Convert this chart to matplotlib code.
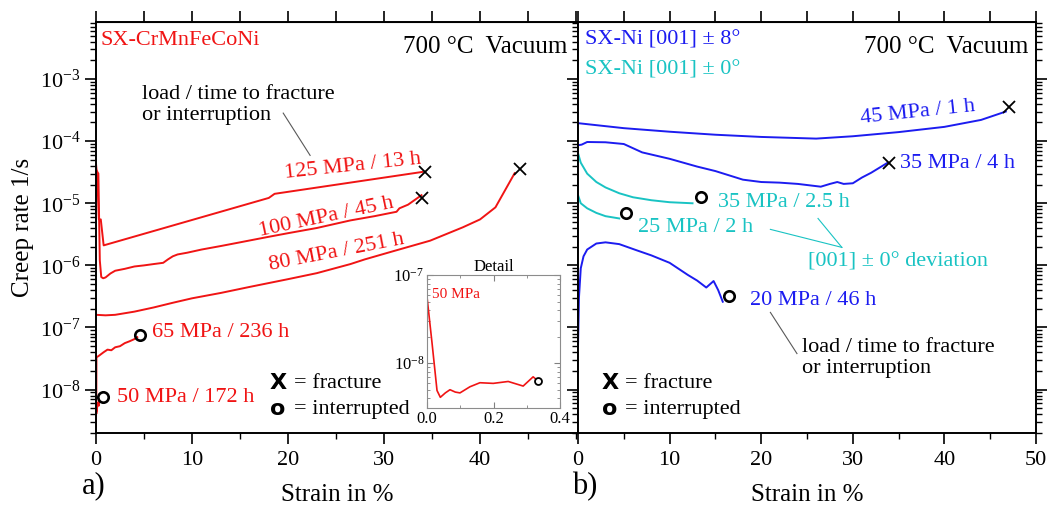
import numpy as np
import matplotlib.pyplot as plt
from matplotlib.ticker import LogLocator, MultipleLocator, NullFormatter, FixedLocator

plt.rcParams['font.family'] = 'Liberation Serif'
plt.rcParams['mathtext.fontset'] = 'custom'
plt.rcParams['mathtext.rm'] = 'Liberation Serif'
plt.rcParams['mathtext.it'] = 'Liberation Serif:italic'

red = '#f01414'
blue = '#1c1cf0'
cyan = '#19c3c3'

# ---- a) SX-CrMnFeCoNi ----
x125 = [0, 0.15, 0.3, 0.5, 0.8, 18.0, 18.6, 34.0]
y125 = [4.4e-5, 2.4e-5, 5.5e-6, 5.5e-6, 2.1e-6, 1.22e-5, 1.42e-5, 3.2e-5]

x100 = [0, 0.25, 0.4, 0.55, 0.75, 1.0, 1.5, 2.0, 3.0, 4.0, 5.0, 6.0, 7.0, 7.5, 8.0, 8.5,
        9.5, 11, 13, 15, 17.8, 20, 23, 26.5, 29, 30.5, 31.3, 31.6, 32.5, 33.9]
y100 = [3.5e-5, 3.0e-5, 1.2e-6, 6.5e-7, 6.2e-7, 6.4e-7, 7.4e-7, 8.2e-7, 8.8e-7, 9.6e-7,
        1.0e-6, 1.05e-6, 1.1e-6, 1.25e-6, 1.4e-6, 1.5e-6, 1.6e-6, 1.8e-6, 2.05e-6, 2.35e-6,
        2.85e-6, 3.3e-6, 4.0e-6, 5.3e-6, 6.2e-6, 6.9e-6, 7.3e-6, 8.3e-6, 9.5e-6, 1.35e-5]

x80 = [0, 1, 2, 4, 6, 8, 10, 13, 16, 20, 23, 26.5, 28, 31, 34.8, 38.2, 40, 41.6, 43.6]
y80 = [1.6e-7, 1.57e-7, 1.6e-7, 1.8e-7, 2.1e-7, 2.5e-7, 2.95e-7, 3.6e-7, 4.5e-7, 6.0e-7,
       7.5e-7, 1.05e-6, 1.25e-6, 1.7e-6, 2.5e-6, 4.1e-6, 5.5e-6, 8.6e-6, 3.05e-5]

x65 = [0, 0.05, 0.3, 0.8, 1.2, 1.6, 2.0, 2.5, 3.0, 3.5, 4.0, 4.3]
y65 = [2.5e-9, 3.3e-8, 3.5e-8, 4.0e-8, 4.4e-8, 4.3e-8, 4.8e-8, 5.0e-8, 5.6e-8, 6.0e-8, 6.5e-8, 7.0e-8]

x50 = [0, 0.015, 0.03, 0.04, 0.055, 0.069, 0.085, 0.099, 0.129, 0.159, 0.199, 0.244, 0.289, 0.319, 0.325]
y50 = [5.6e-8, 1.7e-8, 4.9e-9, 4.1e-9, 4.6e-9, 5.0e-9, 4.7e-9, 4.6e-9, 5.4e-9, 6.0e-9,
       5.9e-9, 6.2e-9, 5.5e-9, 7.0e-9, 6.7e-9]

frac_a_x = [34.3, 34.0, 44.2]
frac_a_y = [3.2e-5, 1.2e-5, 3.5e-5]
int_a_x = [4.6, 0.75]
int_a_y = [7.6e-8, 7.6e-9]

# ---- b) SX-Ni ----
x45 = [0, 5, 10, 15, 20, 26, 30, 35, 40, 44, 46.7]
y45 = [1.95e-4, 1.62e-4, 1.42e-4, 1.27e-4, 1.17e-4, 1.1e-4, 1.2e-4, 1.4e-4, 1.7e-4, 2.2e-4, 3.0e-4]

x35 = [0, 0.4, 1, 3, 5, 7, 10, 13, 15, 18, 20, 22, 24, 26.5, 27.5, 28.3, 29, 30, 31, 32, 33.8]
y35 = [8.6e-5, 8.8e-5, 9.7e-5, 9.6e-5, 9.0e-5, 6.6e-5, 5.2e-5, 3.9e-5, 3.3e-5, 2.4e-5, 2.2e-5,
       2.15e-5, 2.05e-5, 1.85e-5, 2.05e-5, 2.2e-5, 2.05e-5, 2.1e-5, 2.6e-5, 3.1e-5, 4.5e-5]

x20 = [0, 0.1, 0.3, 0.6, 1, 2, 3, 4.5, 6.4, 8, 10, 12, 13, 14, 14.8, 15.3, 15.8]
y20 = [5e-8, 3e-7, 9e-7, 1.4e-6, 1.8e-6, 2.25e-6, 2.35e-6, 2.2e-6, 1.75e-6, 1.45e-6, 1.1e-6,
       7e-7, 5.7e-7, 4.4e-7, 5.6e-7, 4.0e-7, 2.6e-7]

x35c = [0, 0.3, 1, 2, 3, 4.5, 6, 8, 10, 12.5]
y35c = [6.4e-5, 4.5e-5, 3e-5, 2.2e-5, 1.8e-5, 1.45e-5, 1.25e-5, 1.12e-5, 1.04e-5, 1.0e-5]

x25c = [0, 0.3, 1, 2, 3, 4.5]
y25c = [1.35e-5, 1.0e-5, 8.3e-6, 7e-6, 6.2e-6, 5.7e-6]

frac_b_x = [47.1, 34.0]
frac_b_y = [3.5e-4, 4.5e-5]
int_b_x = [13.4, 5.2, 16.5]
int_b_y = [1.25e-5, 7.1e-6, 3.2e-7]


def style(ax, xmax, xticks):
    ax.set_yscale('log')
    ax.set_ylim(2e-9, 8.3e-3)
    ax.set_xlim(0, xmax)
    ax.xaxis.set_major_locator(FixedLocator(xticks))
    ax.xaxis.set_minor_locator(MultipleLocator(5))
    ax.yaxis.set_major_locator(LogLocator(base=10, numticks=20))
    ax.yaxis.set_minor_locator(LogLocator(base=10, subs=np.arange(2, 10), numticks=20))
    ax.yaxis.set_minor_formatter(NullFormatter())
    ax.tick_params(which='major', length=8, width=1.2, labelsize=16, direction='out', pad=5)
    ax.tick_params(which='minor', length=4, width=1.0, direction='out')
    for s in ax.spines.values():
        s.set_linewidth(1.4)
    top = ax.secondary_xaxis('top')
    top.set_xticks(np.arange(0, 51, 5))
    top.set_xticklabels([])
    top.tick_params(length=8, width=1.2, direction='out')
    ax.set_xlabel('Strain in %', fontsize=18, labelpad=10)


fig = plt.figure(figsize=(10.5, 5.09), dpi=100)
ax1 = fig.add_axes([0.0914, 0.1493, 0.4591, 0.8075])
ax2 = fig.add_axes([0.5505, 0.1493, 0.4362, 0.8075], sharey=ax1)
style(ax1, 50.2, [0, 10, 20, 30, 40])
style(ax2, 50, [0, 10, 20, 30, 40, 50])
ax2.tick_params(labelleft=False, right=True, which='both')
ax1.tick_params(axis='y', pad=3)
ax1.set_ylabel('Creep rate 1/s', fontsize=18, labelpad=4)

# left panel curves
for xs, ys in [(x125, y125), (x100, y100), (x80, y80), (x65, y65), (x50, y50)]:
    ax1.plot(xs, ys, color=red, lw=1.4)
ax1.plot(frac_a_x, frac_a_y, 'x', color='k', ms=9, mew=1.3)
ax1.plot(int_a_x, int_a_y, 'o', mfc='none', mec='k', ms=7.5, mew=1.9)

lab = dict(color=red, fontsize=16, rotation_mode='anchor')
ax1.text(26.7, 3.95e-5, '125 MPa / 13 h', ha='center', va='center', rotation=6, **lab)
ax1.text(24.0, 5.9e-6, '100 MPa / 45 h', ha='center', va='center', rotation=12, **lab)
ax1.text(25.1, 1.62e-6, '80 MPa / 251 h', ha='center', va='center', rotation=11, **lab)
ax1.text(5.8, 8.3e-8, '65 MPa / 236 h', ha='left', va='center', **lab)
ax1.text(2.2, 7.4e-9, '50 MPa / 172 h', ha='left', va='center', **lab)

ax1.text(0.01, 0.956, 'SX-CrMnFeCoNi', color=red, fontsize=16, transform=ax1.transAxes, va='center')
ax1.text(0.977, 0.939, '700 °C  Vacuum', fontsize=18, transform=ax1.transAxes, ha='right', va='center')
ax1.text(0.095, 0.798, 'load / time to fracture\nor interruption', fontsize=16,
         transform=ax1.transAxes, va='center', linespacing=1.15)
ax1.plot([19.5, 22.3], [2.83e-4, 5.9e-5], color='0.35', lw=0.8)

# right panel curves
ax2.plot(x45, y45, color=blue, lw=1.4)
ax2.plot(x35, y35, color=blue, lw=1.4)
ax2.plot(x20, y20, color=blue, lw=1.4)
ax2.plot(x35c, y35c, color=cyan, lw=1.4)
ax2.plot(x25c, y25c, color=cyan, lw=1.4)
ax2.plot(frac_b_x, frac_b_y, 'x', color='k', ms=9, mew=1.3)
ax2.plot(int_b_x, int_b_y, 'o', mfc='none', mec='k', ms=7.5, mew=1.9)

ax2.text(37.1, 2.94e-4, '45 MPa / 1 h', color=blue, fontsize=16, ha='center', va='center',
         rotation=6, rotation_mode='anchor')
ax2.text(35.2, 4.4e-5, '35 MPa / 4 h', color=blue, fontsize=16, va='center')
ax2.text(15.3, 1.04e-5, '35 MPa / 2.5 h', color=cyan, fontsize=16, va='center')
ax2.text(6.55, 4.1e-6, '25 MPa / 2 h', color=cyan, fontsize=16, va='center')
ax2.text(25.1, 1.12e-6, '[001] ± 0° deviation', color=cyan, fontsize=16, va='center')
ax2.plot([26.2, 28.8], [5.7e-6, 1.95e-6], color=cyan, lw=0.8)
ax2.plot([21.0, 28.8], [3.8e-6, 1.95e-6], color=cyan, lw=0.8)
ax2.text(18.8, 2.73e-7, '20 MPa / 46 h', color=blue, fontsize=16, va='center')
ax2.plot([21.0, 23.9], [1.75e-7, 3.8e-8], color='0.35', lw=0.8)
ax2.text(0.489, 0.182, 'load / time to fracture\nor interruption', fontsize=16,
         transform=ax2.transAxes, va='center', linespacing=1.15)

ax2.text(0.015, 0.956, 'SX-Ni [001] ± 8°', color=blue, fontsize=16, transform=ax2.transAxes, va='center')
ax2.text(0.015, 0.883, 'SX-Ni [001] ± 0°', color=cyan, fontsize=16, transform=ax2.transAxes, va='center')
ax2.text(0.983, 0.939, '700 °C  Vacuum', fontsize=18, transform=ax2.transAxes, ha='right', va='center')

# marker keys
for ax, x0 in [(ax1, 0.361), (ax2, 0.052)]:
    ax.text(x0, 0.121, 'X', fontsize=16, fontweight='bold', family='DejaVu Sans',
            transform=ax.transAxes, va='center')
    ax.text(x0 + 0.05, 0.121, '= fracture', fontsize=16, transform=ax.transAxes, va='center')
    ax.text(x0, 0.058, 'o', fontsize=16, fontweight='bold', family='DejaVu Sans',
            transform=ax.transAxes, va='center')
    ax.text(x0 + 0.05, 0.058, '= interrupted', fontsize=16, transform=ax.transAxes, va='center')

fig.text(0.078, 0.045, 'a)', fontsize=22, va='center')
fig.text(0.545, 0.045, 'b)', fontsize=22, va='center')

# inset detail
axi = fig.add_axes([0.4067, 0.1984, 0.1267, 0.2613])
axi.plot(x50, y50, color=red, lw=1.2)
axi.plot([0.334], [6.3e-9], 'o', mfc='none', mec='k', ms=5, mew=1.3)
axi.set_yscale('log')
axi.set_xlim(0, 0.4)
axi.set_ylim(3.1e-9, 1e-7)
axi.xaxis.set_major_locator(MultipleLocator(0.2))
axi.xaxis.set_minor_locator(MultipleLocator(0.1))
axi.xaxis.set_major_formatter(plt.FormatStrFormatter('%.1f'))
axi.yaxis.set_minor_formatter(NullFormatter())
axi.tick_params(which='both', direction='in', top=True, right=True, color='0.5', labelsize=12, pad=2)
axi.tick_params(which='major', length=4)
axi.tick_params(which='minor', length=2)
for s in axi.spines.values():
    s.set_color('0.55')
axi.set_title('Detail', fontsize=12, pad=3)
axi.text(0.04, 0.83, '50 MPa', color=red, fontsize=11, transform=axi.transAxes)

fig.savefig('out.png', dpi=100)
